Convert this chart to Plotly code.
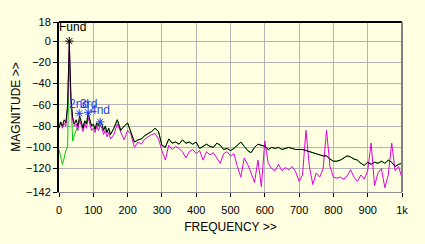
import plotly.graph_objects as go

freq = [0, 5, 10, 15, 20, 25, 30, 35, 40, 45, 50, 55, 60, 65, 70, 75, 80, 85, 90, 95,
        100, 105, 110, 115, 120, 125, 130, 135, 140, 145, 150,
        160, 170, 180, 190, 200, 210, 220, 230, 240, 250, 260, 270, 280, 290,
        300, 310, 320, 330, 340, 350, 360, 370, 380, 390, 400, 410, 420, 430, 440,
        450, 460, 470, 480, 490, 500, 510, 520, 530, 540, 550, 560, 570, 580, 590,
        600, 610, 620, 630, 640, 650, 660, 670, 680, 690, 700, 710, 720, 730, 740,
        750, 760, 770, 780, 790, 800, 810, 820, 830, 840, 850, 860, 870, 880, 890,
        900, 910, 920, 930, 940, 950, 960, 970, 980, 990, 1000]

black = [-82, -76, -80, -74, -77, -60, 0, -55, -72, -78, -74, -80, -70, -76, -82, -75, -78, -68, -74, -80,
         -78, -83, -77, -80, -75, -78, -84, -80, -86, -82, -88,
         -82, -74, -84, -80, -77, -86, -95, -93, -92, -89, -87, -85, -82, -85,
         -98, -100, -92, -96, -95, -97, -93, -96, -95, -97, -95, -101, -99, -97, -99,
         -100, -96, -98, -102, -101, -103, -101, -98, -95, -99, -103, -105, -100, -97, -98,
         -99, -102, -100, -101, -100, -102, -101, -100, -101, -102, -102, -102, -103, -104, -105,
         -106, -107, -108, -108, -111, -113, -113, -112, -110, -108, -109, -111, -112, -115, -117,
         -114, -116, -114, -115, -113, -115, -112, -114, -118, -116, -115]

magenta = [-79, -76, -82, -77, -80, -62, -3, -58, -75, -80, -78, -84, -74, -80, -85, -78, -82, -72, -78, -84,
           -82, -86, -80, -84, -79, -82, -88, -84, -90, -86, -92,
           -88, -78, -86, -93, -84, -88, -100, -95, -97, -92, -90, -88, -87, -92,
           -103, -112, -98, -102, -99, -101, -104, -110, -104, -102, -106, -103, -112, -104, -107,
           -105, -110, -115, -106, -104, -108, -106, -118, -128, -110, -116, -124, -133, -112, -137,
           -94, -115, -120, -122, -116, -122, -119, -121, -118, -123, -132, -126, -84, -118, -135,
           -124, -128, -120, -84, -118, -128, -129, -128, -130, -127, -121, -128, -132, -126, -130,
           -122, -96, -136, -124, -120, -138, -126, -96, -122, -118, -129]

green_low = [-102, -108, -116, -110, -103, -100, -17, -57, -94, -88, -84, -80, -74]

green = green_low + black[len(green_low):]

harm_freq = [30, 59, 85, 120]
harm_mag = [0, -68, -67, -76]
harm_labels = ["Fund", "2nd", "3rd", "4nd"]

y_ticks = [18, 0, -20, -40, -60, -80, -100, -120, -142]
x_ticks = [0, 100, 200, 300, 400, 500, 600, 700, 800, 900, 1000]
x_tick_text = ["0", "100", "200", "300", "400", "500", "600", "700", "800", "900", "1k"]

BG = "#FFFFE1"
FONT = "Liberation Sans"

fig = go.Figure()
fig.add_trace(go.Scatter(x=freq, y=green, mode="lines", line=dict(color="#00CC00", width=1)))
fig.add_trace(go.Scatter(x=freq, y=magenta, mode="lines", line=dict(color="#E000E0", width=1)))
fig.add_trace(go.Scatter(x=freq, y=black, mode="lines", line=dict(color="#000000", width=1)))
fig.add_trace(go.Scatter(x=harm_freq[:1], y=harm_mag[:1], mode="markers",
                         marker=dict(symbol="asterisk-open", size=7, color="#000000",
                                     line=dict(color="#000000", width=1))))
fig.add_trace(go.Scatter(x=harm_freq[1:], y=harm_mag[1:], mode="markers",
                         marker=dict(symbol="asterisk-open", size=7, color="#2040FF",
                                     line=dict(color="#2040FF", width=1))))

label_x = [38, 59, 85, 120]
label_y = [13, -59, -59, -65]
for i, t in enumerate(harm_labels):
    fig.add_annotation(x=label_x[i], y=label_y[i], text=t, showarrow=False,
                       font=dict(family=FONT, size=12, color="#000000" if i == 0 else "#2040FF"),
                       xanchor="center", yanchor="middle")

fig.update_layout(
    width=425, height=244,
    margin=dict(l=59, r=23, t=22, b=41),
    paper_bgcolor=BG, plot_bgcolor=BG,
    showlegend=False,
    font=dict(family=FONT, size=11, color="#000000"),
    xaxis=dict(range=[0, 1000], tickvals=x_ticks, ticktext=x_tick_text,
               showgrid=True, gridcolor="#B4B4B4", gridwidth=1,
               ticks="outside", ticklen=4, tickcolor="#000000", ticklabelstandoff=4,
               showline=True, linecolor="#909090", linewidth=1,
               zeroline=False, title=dict(text="FREQUENCY >>", standoff=7,
                                          font=dict(family=FONT, size=12))),
    yaxis=dict(range=[-142, 18], tickvals=y_ticks,
               showgrid=True, gridcolor="#B4B4B4", gridwidth=1,
               ticks="outside", ticklen=4, tickcolor="#000000",
               showline=True, linecolor="#000000", linewidth=2,
               zeroline=False, title=dict(text="MAGNITUDE >>", standoff=3,
                                          font=dict(family=FONT, size=12))),
)
fig.add_shape(type="line", xref="paper", yref="paper", x0=0, x1=1, y0=1, y1=1,
              line=dict(color="#000000", width=2))
fig.add_shape(type="line", xref="paper", yref="paper", x0=1, x1=1, y0=0, y1=1,
              line=dict(color="#808080", width=2))

fig.write_html("out.html")
